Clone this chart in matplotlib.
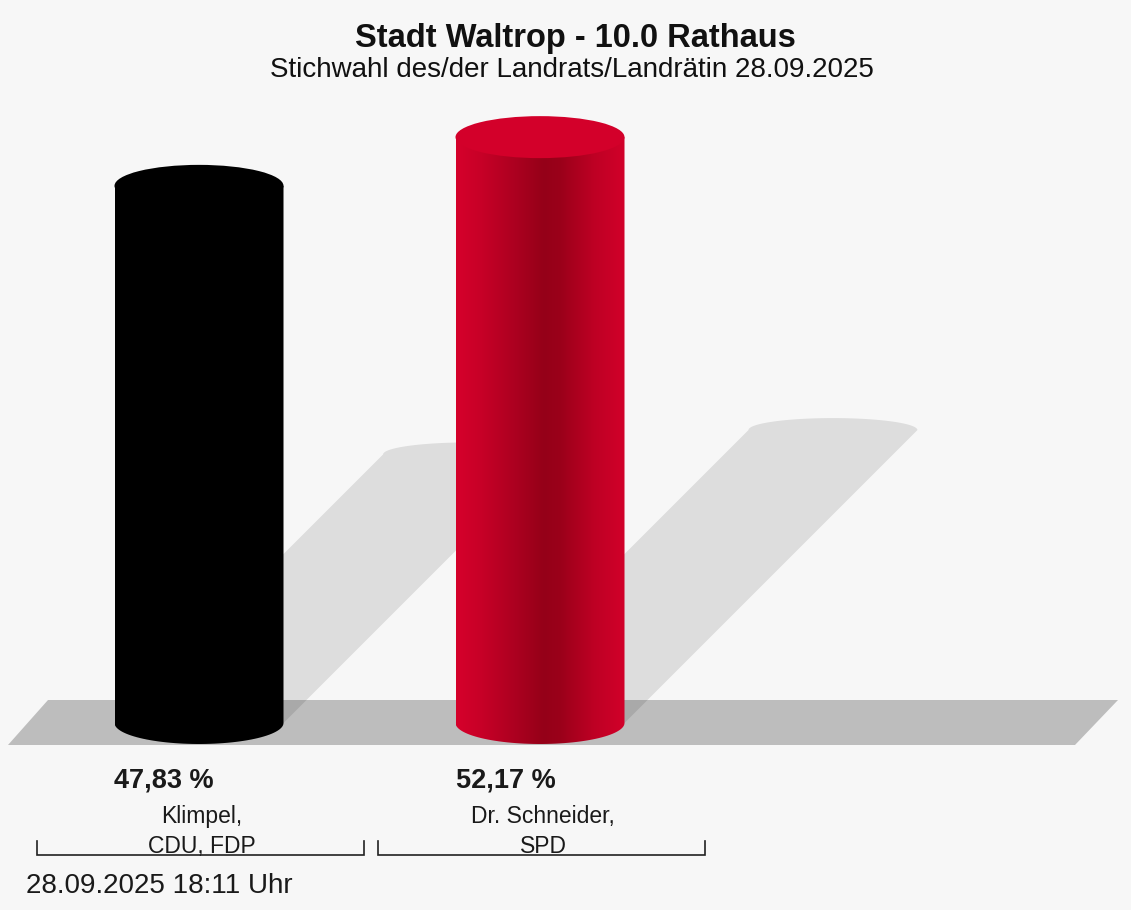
import matplotlib
matplotlib.use('Agg')
import matplotlib.pyplot as plt
import numpy as np
from matplotlib.path import Path
from matplotlib.patches import PathPatch, Ellipse, Polygon
from matplotlib.colors import LinearSegmentedColormap

plt.rcParams['font.family'] = ['Liberation Sans', 'DejaVu Sans']

# Election results
names = ['Klimpel,', 'Dr. Schneider,']
parties = ['CDU, FDP', 'SPD']
shares = [47.83, 52.17]
colors = ['#000000', '#d3002a']

title = 'Stadt Waltrop - 10.0 Rathaus'
subtitle = 'Stichwahl des/der Landrats/Landrätin 28.09.2025'
stamp = '28.09.2025 18:11 Uhr'

# layout in pixels
W, H = 1131, 910
BASE = 723          # pixel row of the cylinder base
PX = 11.23          # pixels per percent
centers = [199, 540]
RX = 84.5
RY = 21 / PX


def ypx(p):
    # pixel row -> value axis
    return (BASE - p) / PX


fig = plt.figure(figsize=(W / 100, H / 100), dpi=100)
fig.patch.set_facecolor('#f7f7f7')
ax = fig.add_axes([0, 0, 1, 1])
ax.set_xlim(0, W)
ax.set_ylim(ypx(H), ypx(0))
ax.axis('off')

# floor slab
floor = Polygon([(8, ypx(745)), (1075, ypx(745)), (1118, ypx(700)), (48, ypx(700))],
                closed=True, facecolor='#bdbdbd', edgecolor='none', zorder=1)
ax.add_patch(floor)

red_cmap = LinearSegmentedColormap.from_list('cyl', [
    (0.0, '#d6002b'), (0.15, '#c70027'), (0.35, '#ac0020'),
    (0.52, '#950018'), (0.62, '#9b001a'), (0.82, '#be0024'), (1.0, '#d2002a')])
black_cmap = LinearSegmentedColormap.from_list('blk', ['#000000', '#000000'])

t_low = np.linspace(np.pi, 2 * np.pi, 60)
t_up = np.linspace(np.pi, 0, 60)

for xc, v, col in zip(centers, shares, colors):
    xl, xr = xc - RX, xc + RX

    # cast shadow leaning to the upper right
    top = 0.5 * v
    d = top * PX
    sry = 12 / PX
    pts = [(xl, 0), (xl + d, top)]
    pts += list(zip(xc + d + RX * np.cos(t_up), top + sry * np.sin(t_up)))
    pts += [(xr + d, top), (xr, 0), (xl, 0)]
    ax.add_patch(Polygon(pts, closed=True, facecolor='black', alpha=0.1,
                         edgecolor='none', zorder=2))

    # cylinder body: straight sides plus rounded bottom
    body = [(xl, v), (xl, 0)]
    body += list(zip(xc + RX * np.cos(t_low), RY * np.sin(t_low)))
    body += [(xr, 0), (xr, v), (xl, v)]
    body_patch = PathPatch(Path(body), facecolor='none', edgecolor='none', zorder=3)
    ax.add_patch(body_patch)
    cmap = red_cmap if col != '#000000' else black_cmap
    grad = np.linspace(0, 1, 256).reshape(1, -1)
    im = ax.imshow(grad, cmap=cmap, aspect='auto', extent=(xl, xr, -RY, v),
                   zorder=3, interpolation='bilinear')
    im.set_clip_path(body_patch)

    # top lid
    ax.add_patch(Ellipse((xc, v), 2 * RX, 2 * RY, facecolor=col,
                         edgecolor='none', zorder=4))

    # value label
    ax.text(xl, ypx(787), f'{v:.2f} %'.replace('.', ','), ha='left',
            va='baseline', fontsize=19.5, fontweight='bold', color='#1a1a1a')

# category labels with brackets
for xc, name, party in zip(centers, names, parties):
    ax.text(xc + 3, ypx(823), name, ha='center', va='baseline',
            fontsize=16.5, color='#1a1a1a')
    ax.text(xc + 3, ypx(853), party, ha='center', va='baseline',
            fontsize=16.5, color='#1a1a1a')
    bl, br = xc - 162, xc + 165
    ax.plot([bl, bl, br, br], [ypx(841), ypx(855), ypx(855), ypx(841)],
            color='#222222', lw=1.2, solid_joinstyle='miter', zorder=5)

ax.text(575, ypx(47), title, ha='center', va='baseline', fontsize=23.5,
        fontweight='bold', color='#111111')
ax.text(572, ypx(77), subtitle, ha='center', va='baseline', fontsize=20,
        color='#111111')
ax.text(26, ypx(893), stamp, ha='left', va='baseline', fontsize=20,
        color='#1a1a1a')

fig.savefig('out.png', dpi=100, facecolor=fig.get_facecolor())
